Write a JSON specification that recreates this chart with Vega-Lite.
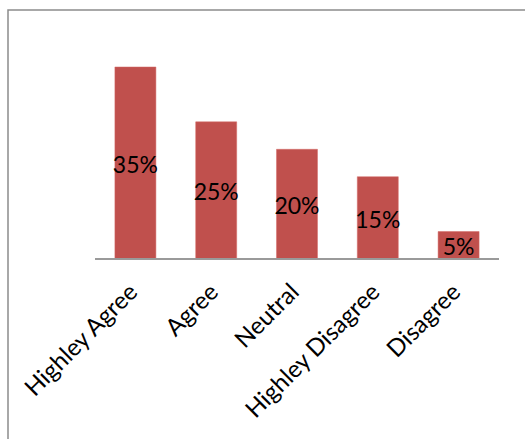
{
  "$schema": "https://vega.github.io/schema/vega-lite/v6.json",
  "width": 519,
  "height": 433,
  "autosize": "none",
  "padding": {"left": 8, "top": 10, "right": -2, "bottom": -4},
  "background": "white",
  "config": {"view": {"stroke": "#8c8c8c", "strokeWidth": 1.5}},
  "data": {"values": [
    {"i": 1, "cat": "Highley Agree", "v": 0.35},
    {"i": 2, "cat": "Agree", "v": 0.25},
    {"i": 3, "cat": "Neutral", "v": 0.20},
    {"i": 4, "cat": "Highley Disagree", "v": 0.15},
    {"i": 5, "cat": "Disagree", "v": 0.05}
  ]},
  "layer": [
    {
      "mark": {"type": "bar", "color": "#C0504D", "size": 41, "stroke": "#d46a67", "strokeWidth": 0.5},
      "encoding": {
        "x": {"field": "i", "type": "quantitative", "scale": {"domain": [-0.5767, 5.8466], "nice": false, "zero": false, "padding": 0},
          "axis": {"values": [1, 2, 3, 4, 5], "offset": -184, "domain": false, "ticks": false, "grid": false, "title": null,
            "labelExpr": "['', 'Highley Agree', 'Agree', 'Neutral', 'Highley Disagree', 'Disagree'][datum.value]",
            "labelAngle": -45, "labelAlign": "right", "labelBaseline": "middle", "labelPadding": 29, "labelOffset": -2,
            "labelFont": "Lato", "labelFontSize": 24, "labelColor": "#000000", "labelOverlap": false, "labelFlush": false, "labelBound": false}},
        "y": {"field": "v", "type": "quantitative", "scale": {"domain": [-0.3354, 0.4539], "nice": false, "zero": false}, "axis": null}
      }
    },
    {
      "mark": {"type": "rule", "color": "#9a9a9a", "strokeWidth": 1.5},
      "encoding": {
        "x": {"datum": 0.5, "type": "quantitative"},
        "x2": {"datum": 5.5},
        "y": {"datum": 0, "type": "quantitative", "scale": {"domain": [-0.3354, 0.4539], "nice": false, "zero": false}, "axis": null}
      }
    },
    {
      "mark": {"type": "text", "font": "Lato", "fontSize": 23, "color": "#000000", "align": "center", "baseline": "middle", "dy": 3},
      "encoding": {
        "x": {"field": "i", "type": "quantitative"},
        "y": {"field": "v", "type": "quantitative", "scale": {"domain": [-0.6708, 0.9078], "nice": false, "zero": false}, "axis": null},
        "text": {"field": "v", "type": "quantitative", "format": ".0%"}
      }
    }
  ],
  "resolve": {"scale": {"y": "independent"}}
}
